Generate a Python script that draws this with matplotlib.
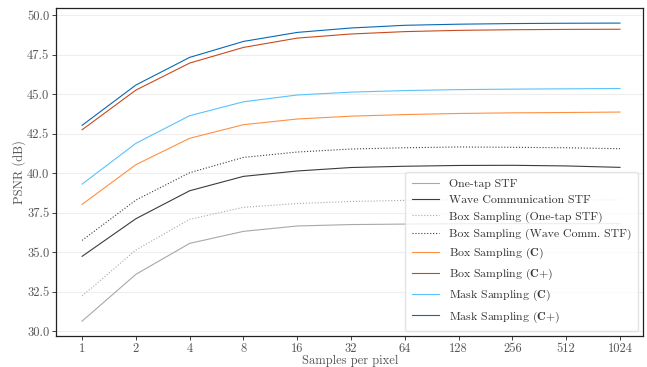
import numpy as np
import matplotlib
matplotlib.use("Agg")
import matplotlib.pyplot as plt

plt.rcParams["font.family"] = "serif"
plt.rcParams["font.serif"] = ["cmr10", "DejaVu Serif"]
plt.rcParams["mathtext.fontset"] = "cm"
plt.rcParams["axes.formatter.use_mathtext"] = True

# Samples per pixel
spp = [1, 2, 4, 8, 16, 32, 64, 128, 256, 512, 1024]

# PSNR (dB)
one_tap = [30.63, 33.59, 35.55, 36.31, 36.65, 36.74, 36.77, 36.79, 36.80, 36.80, 36.80]
wave_comm = [34.73, 37.11, 38.88, 39.79, 40.13, 40.35, 40.43, 40.48, 40.49, 40.45, 40.36]
box_one_tap = [32.22, 35.13, 37.07, 37.83, 38.07, 38.20, 38.27, 38.30, 38.31, 38.31, 38.30]
box_wave_comm = [35.74, 38.29, 40.02, 40.99, 41.33, 41.52, 41.60, 41.65, 41.63, 41.60, 41.54]
box_c = [38.02, 40.53, 42.20, 43.06, 43.42, 43.60, 43.70, 43.77, 43.81, 43.83, 43.86]
box_cplus = [42.74, 45.25, 46.96, 47.95, 48.54, 48.80, 48.95, 49.03, 49.07, 49.09, 49.10]
mask_c = [39.30, 41.88, 43.63, 44.51, 44.94, 45.12, 45.22, 45.28, 45.31, 45.33, 45.35]
mask_cplus = [43.02, 45.57, 47.32, 48.33, 48.90, 49.18, 49.35, 49.42, 49.46, 49.48, 49.49]

series = [
    ("One-tap STF", one_tap, "#a8a8a8", "-"),
    ("Wave Communication STF", wave_comm, "#3c3c3c", "-"),
    ("Box Sampling (One-tap STF)", box_one_tap, "#a8a8a8", ":"),
    ("Box Sampling (Wave Comm. STF)", box_wave_comm, "#3c3c3c", ":"),
    (r"Box Sampling ($\mathbf{C}$)", box_c, "#ff9040", "-"),
    (r"Box Sampling ($\mathbf{C{+}}$)", box_cplus, "#c84a1c", "-"),
    (r"Mask Sampling ($\mathbf{C}$)", mask_c, "#5ac2fc", "-"),
    (r"Mask Sampling ($\mathbf{C{+}}$)", mask_cplus, "#0868b8", "-"),
]

fig = plt.figure(figsize=(6.47, 3.67), dpi=100)
ax = fig.add_axes([0.087, 0.085, 0.907, 0.893])

x = np.arange(len(spp))
for label, vals, color, ls in series:
    ax.plot(x, vals, color=color, linestyle=ls, linewidth=0.8, label=label)

ax.set_xticks(x)
ax.set_xticklabels([str(s) for s in spp])
ax.set_xlim(-0.48, 10.43)
ax.set_ylim(29.7, 50.44)
yt = np.arange(30.0, 50.01, 2.5)
ax.set_yticks(yt)
ax.set_yticklabels([f"{v:.1f}" for v in yt])

ax.grid(axis="y", color="#eeeeee", linewidth=0.8)
ax.set_axisbelow(True)
ax.tick_params(labelsize=9, colors="#555555", length=3, width=0.6, pad=2)
ax.tick_params(axis="both", color="#222222")
for sp in ax.spines.values():
    sp.set_color("#222222")
    sp.set_linewidth(0.9)

ax.set_xlabel("Samples per pixel", fontsize=9, color="#555555", labelpad=0)
ax.set_ylabel("PSNR (dB)", fontsize=9, color="#555555", labelpad=1)

leg = ax.legend(loc="lower right", fontsize=8.5, frameon=True, framealpha=0.8,
                handlelength=2.3, handletextpad=0.9, borderpad=0.55,
                labelspacing=0.5, borderaxespad=0.4,
                bbox_to_anchor=(1.0, 0.0))
leg.get_frame().set_edgecolor("#dddddd")
for t in leg.get_texts():
    t.set_color("#333333")

fig.savefig("out.png", dpi=100)
